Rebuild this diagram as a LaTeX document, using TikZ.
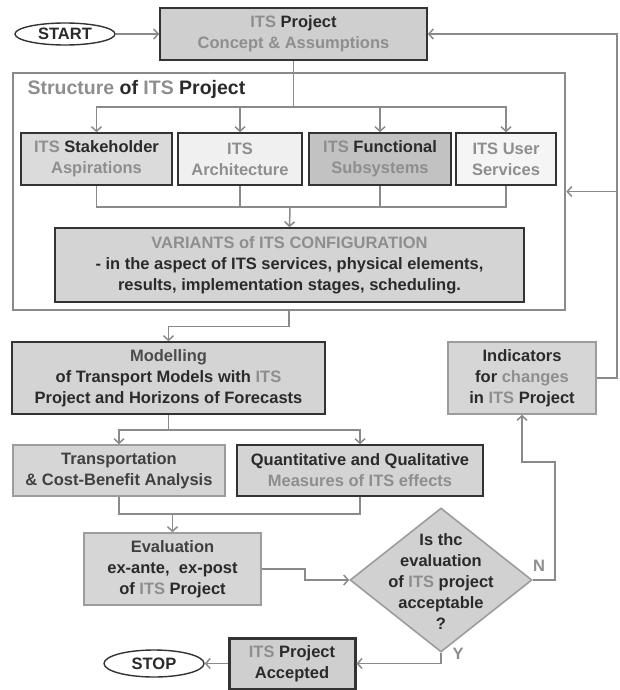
\documentclass[tikz,border=0pt]{standalone}
\usepackage{fontspec}
\setmainfont{Liberation Sans}
\usetikzlibrary{shapes.geometric,arrows.meta}

\definecolor{linegray}{HTML}{8A8A8A}
\definecolor{txtdark}{HTML}{2A2A2A}
\definecolor{txtgray}{HTML}{8E8E8E}
\definecolor{edgedark}{HTML}{333333}
\definecolor{edgesoft}{HTML}{9C9C9C}
\newcommand{\lite}[1]{\textcolor{txtgray}{#1}}

\tikzset{
  box/.style={rectangle, draw=edgedark, line width=1.6pt, fill=#1, inner sep=0pt,
    align=center, text=txtdark, font=\fontsize{16.5}{21}\selectfont\bfseries},
  box/.default={black!17},
  softbox/.style={box=#1, draw=edgesoft},
  softbox/.default={black!16},
  term/.style={ellipse, draw=edgedark, line width=1.4pt, fill=white, inner sep=0pt,
    text=txtdark, font=\fontsize{16.5}{21}\selectfont\bfseries},
  decision/.style={diamond, draw=edgesoft, line width=1.6pt, fill=black!18, inner sep=0pt},
  conn/.style={draw=linegray, line width=1.5pt},
  lbl/.style={text=txtgray, font=\fontsize{16.5}{21}\selectfont\bfseries},
  txt/.style={align=center, text=txtdark, font=\fontsize{16.5}{21}\selectfont\bfseries}
}

\begin{document}
\begin{tikzpicture}[x=1pt,y=-1pt,>={Straight Barb[length=4.5pt,width=10pt]}]
\useasboundingbox (0,0) rectangle (620,690);

\node[term, minimum width=100pt, minimum height=22pt] (start) at (65,34) {START};
\node[box=black!19, minimum width=267pt, minimum height=52pt] (concept) at (293.5,34)
  {\lite{ITS} Project\\\lite{Concept \& Assumptions}};

\node[draw=linegray, line width=2.6pt, minimum width=552pt, minimum height=237pt] (structure) at (289,191.5) {};
\node[anchor=base west, text=txtdark, font=\fontsize{19.5}{24}\selectfont\bfseries] (structlabel) at (24,95)
  {\lite{Structure} of \lite{ITS} Project};

\node[box=black!14, minimum width=151pt, minimum height=52pt] (stake) at (96.5,159) {\lite{ITS} Stakeholder\\\lite{Aspirations}};
\node[box=black!6, minimum width=124pt, minimum height=52pt] (arch) at (240,159) {\lite{ITS}\\\lite{Architecture}};
\node[box=black!24, minimum width=142pt, minimum height=52pt] (func) at (380,159) {\lite{ITS} Functional\\\lite{Subsystems}};
\node[box=black!4, minimum width=100pt, minimum height=52pt] (user) at (506,159) {\lite{ITS User}\\\lite{Services}};

\node[box, minimum width=469pt, minimum height=74pt] (variants) at (289.5,265)
  {\lite{VARIANTS of ITS CONFIGURATION}\\- in the aspect of ITS services, physical elements,\\results, implementation stages, scheduling.};

\node[box, minimum width=313pt, minimum height=72pt] (model) at (168.5,378)
  {\textcolor{black!70}{Modelling}\\of Transport Models with \lite{ITS}\\Project and Horizons of Forecasts};
\node[softbox, minimum width=148pt, minimum height=72pt] (indic) at (522,378)
  {Indicators\\for \lite{changes}\\in \lite{ITS} Project};

\node[softbox, minimum width=212pt, minimum height=51pt] (transp) at (119,470.5)
  {\textcolor{black!75}{Transportation}\\\textcolor{black!75}{\& Cost-Benefit Analysis}};
\node[box, minimum width=246pt, minimum height=51pt] (quant) at (360,470.5)
  {Quantitative and Qualitative\\\lite{Measures of ITS effects}};

\node[softbox, minimum width=177pt, minimum height=72pt] (eval) at (172.5,569)
  {\textcolor{black!75}{Evaluation}\\ex-ante,\ \ ex-post\\of \lite{ITS} Project};

\node[decision, minimum width=182pt, minimum height=144pt] (accept) at (441,580) {};
\node[txt] (accepttext) at (441,582) {Is thc\\evaluation\\of \lite{ITS} project\\acceptable\\?};

\node[box=black!19, line width=3pt, minimum width=126pt, minimum height=51pt] (accepted) at (292,663.5)
  {\lite{ITS} Project\\Accepted};
\node[term, minimum width=100pt, minimum height=27pt] (stop) at (154,663.5) {STOP};

\node[lbl] (nlabel) at (539,566) {N};
\node[lbl] (ylabel) at (458,654) {Y};

\coordinate (split1) at (293.5,107);
\coordinate (join1) at (290,207);
\coordinate (split2) at (168.5,430);
\coordinate (join2) at (172.5,514);
\coordinate (nturn) at (555,462);
\coordinate (loop) at (617,34);

\draw[conn,->] (start) -- (concept);
\draw[conn] (concept) -- (split1);
\foreach \b in {stake,arch,func,user}
  \draw[conn,->] (split1) -| (\b.north);
\foreach \b in {stake,arch,func,user}
  \draw[conn] (\b.south) |- (join1);
\draw[conn,->] (join1) -- (variants.north);
\draw[conn,->] (structure.south) -- ++(0,15) -| (model.north);
\draw[conn] (model.south) -- (split2);
\draw[conn,->] (split2) -| (transp.north);
\draw[conn,->] (split2) -| (quant.north);
\draw[conn] (transp.south) |- (join2);
\draw[conn] (quant.south) |- (join2);
\draw[conn,->] (join2) -- (eval.north);
\draw[conn,->] (eval.east) -- ++(43,0) |- (accept.west);
\draw[conn,->] (accept.east) -| (nturn) -| (indic.south);
\draw[conn,->] (indic.east) -| (loop) -- (concept.east);
\draw[conn,->] (loop |- structure.east) -- (structure.east);
\draw[conn,->] (accept.south) |- (accepted.east);
\draw[conn,->] (accepted.west) -- (stop.east);
\end{tikzpicture}
\end{document}
